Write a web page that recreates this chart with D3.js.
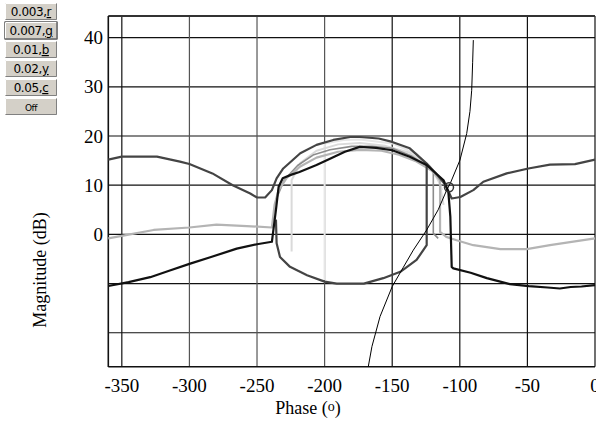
<!DOCTYPE html>
<html>
<head>
<meta charset="utf-8">
<script src="https://cdn.jsdelivr.net/npm/d3@7"></script>
<style>
  body { margin: 0; background: #fff; }
  svg { display: block; }
</style>
</head>
<body>
<div id="chart"></div>
<script>
'use strict';
// Nichols-style magnitude/phase plot with describing-function branches

var xTicks = [-350, -300, -250, -200, -150, -100, -50, 0];
var yTicks = [-20, -10, 0, 10, 20, 30, 40];
var yLabels = [0, 10, 20, 30, 40];
var buttons = ["0.003,r", "0.007,g", "0.01,b", "0.02,y", "0.05,c", "Off"];

// dark gray branch (outer)
var darkMain = [[-360,15.2],[-350,15.8],[-324,15.8],[-307,14.8],[-300,14.3],[-283,12.4],[-268,10],[-255,8.3],
  [-250,7.5],[-244,7.5],[-239,9.0],[-235.5,11.4],[-230.6,13.4],[-218,16.5],[-206,18.2],[-193.6,19.2],[-181,19.8],
  [-174,19.8],[-160,19.5],[-150,18.8],[-137,17.5],[-124.5,14.4],[-117,12.2],[-111,10.2],[-108,8.5],[-106,7.3],
  [-99.6,7.6],[-90,9],[-82.6,10.7],[-65.3,12.4],[-49.3,13.4],[-33.3,14.2],[-14.8,14.3],[0,15.2]];
// dark gray unstable loop
var darkLoop = [[-124.5,14.4],[-124.5,-2.2],[-132,-5.2],[-144,-7.6],[-156.6,-8.9],[-171,-10],[-191,-10],
  [-200,-9.6],[-213,-8.3],[-225.6,-6.6],[-233,-4.6],[-235.5,-1.8],[-236,3]];
// black branch
var blackMain = [[-360,-10.5],[-345,-9.7],[-329,-8.7],[-315,-7.4],[-300,-6.0],[-284,-4.6],[-265,-2.9],[-250,-2.0],
  [-239,-1.5],[-236,5],[-234,9.7],[-231,11.4],[-225,12.1],[-218.6,12.7],[-206,14.1],[-196,15.4],[-185,16.8],
  [-174,17.8],[-162,17.6],[-150,17.1],[-137,15.8],[-124.5,14.1],[-112,11],[-108.5,8.7],[-107,3.6],[-106,-6.6],
  [-104.8,-6.9],[-92,-7.8],[-80,-8.9],[-63,-10.1],[-49,-10.5],[-35,-10.8],[-26,-11],[-18,-10.7],[-10,-10.6],[0,-10.3]];
// light gray branch
var lightMain = [[-360,-0.8],[-346,-0.1],[-326.5,0.9],[-300,1.4],[-280,2.0],[-257.6,1.7],[-239,1.4],[-237,6],
  [-234,9],[-228,11.5],[-218,13.8],[-206,15.6],[-190,16.8],[-174,17.2],[-158,17],[-145,16.2],[-132,14.8],
  [-120,12.8],[-114.6,11],[-114.6,0.5],[-110,-0.5],[-102.4,-1.2],[-90,-2.2],[-70,-3.0],[-50.5,-3.0],[-33.3,-2.2],[0,-0.8]];
// faint branches
var faintA = [[-224.4,-3.5],[-224.4,11],[-218,14.5],[-206,17],[-190,18.3],[-174,18.6],[-155,18],[-137,16.6],
  [-122,13.8],[-115,10.5],[-112,6]];
var faintB = [[-200,-9.3],[-200,18.5],[-186,19.2],[-174,19.3],[-150,18.5],[-132,16.4],[-118,12.6],[-113,9]];
var midGray = [[-236,7],[-230,11],[-220,14],[-208,16.2],[-196,17.2],[-180,17.9],[-165,17.9],[-150,17.5],
  [-136,16],[-122,13.4],[-119.6,12.5],[-119.6,0.2],[-116,-0.8]];
// plant locus (thin)
var plant = [[-167.7,-26.9],[-165,-22.8],[-159,-16.7],[-150,-10.6],[-142,-6.8],[-134.4,-3.2],[-124.5,0.9],
  [-116,5],[-109.7,9],[-107,10.4],[-99.9,15.1],[-94.9,20.5],[-92.5,25],[-91.2,29.3],[-90.5,35],[-90,39.5]];
var marker = [-108, 9.6];

var W = 596, H = 428;
var svg = d3.select("#chart").append("svg").attr("width", W).attr("height", H);

var x = d3.scaleLinear().domain([-360, 0]).range([108.3, 595]);
var y = d3.scaleLinear().domain([-26.9, 44.4]).range([366.7, 16]);

var serif = "'Liberation Serif', 'Times New Roman', serif";

// grid
var grid = svg.append("g");
grid.selectAll("line.h").data(yTicks).enter().append("line")
    .attr("x1", x(-360)).attr("x2", x(0))
    .attr("y1", function(d) { return y(d); }).attr("y2", function(d) { return y(d); })
    .attr("stroke", "#111").attr("stroke-width", 1.2);
grid.selectAll("line.v").data(xTicks).enter().append("line")
    .attr("x1", function(d) { return x(d); }).attr("x2", function(d) { return x(d); })
    .attr("y1", y(44.4)).attr("y2", y(-26.9))
    .attr("stroke", function(d) { return (d >= -300 && d <= -200) ? "#555" : "#111"; })
    .attr("stroke-width", 1.2);

// frame
svg.append("line").attr("x1", x(-360)).attr("x2", x(0)).attr("y1", 16).attr("y2", 16)
    .attr("stroke", "#333").attr("stroke-width", 2);
svg.append("line").attr("x1", x(-360)).attr("x2", x(-360)).attr("y1", 16).attr("y2", 367)
    .attr("stroke", "#111").attr("stroke-width", 1.6);
svg.append("line").attr("x1", x(-360)).attr("x2", x(0)).attr("y1", y(-26.9)).attr("y2", y(-26.9))
    .attr("stroke", "#111").attr("stroke-width", 1.6);

// curves
var line = d3.line().x(function(d) { return x(d[0]); }).y(function(d) { return y(d[1]); });
var curves = [
  {d: faintB, c: "#e6e6e6", w: 2},
  {d: faintA, c: "#dadada", w: 2},
  {d: midGray, c: "#8c8c8c", w: 1.6},
  {d: lightMain, c: "#b4b4b4", w: 2.2},
  {d: darkLoop, c: "#444", w: 2.2},
  {d: darkMain, c: "#444", w: 2.2},
  {d: blackMain, c: "#111", w: 2.2},
  {d: plant, c: "#000", w: 1}
];
svg.append("g").selectAll("path").data(curves).enter().append("path")
    .attr("d", function(s) { return line(s.d); })
    .attr("fill", "none")
    .attr("stroke", function(s) { return s.c; })
    .attr("stroke-width", function(s) { return s.w; })
    .attr("stroke-linejoin", "round");

svg.append("circle").attr("cx", x(marker[0])).attr("cy", y(marker[1])).attr("r", 4.5)
    .attr("fill", "none").attr("stroke", "#333").attr("stroke-width", 1.5);

// tick labels
svg.append("g").selectAll("text").data(xTicks).enter().append("text")
    .attr("x", function(d) { return x(d); }).attr("y", 392)
    .attr("text-anchor", "middle")
    .style("font-family", serif).style("font-size", "19px")
    .text(function(d) { return d; });
svg.append("g").selectAll("text").data(yLabels).enter().append("text")
    .attr("x", 103).attr("y", function(d) { return y(d) + 6.5; })
    .attr("text-anchor", "end")
    .style("font-family", serif).style("font-size", "19px")
    .text(function(d) { return d; });

// axis titles
var xt = svg.append("text").attr("x", 308).attr("y", 414).attr("text-anchor", "middle")
    .style("font-family", serif).style("font-size", "18px");
xt.append("tspan").text("Phase (");
xt.append("tspan").attr("dy", -3).style("font-size", "14px").text("o");
xt.append("tspan").attr("dy", 3).text(")");

svg.append("text").attr("transform", "translate(46,270) rotate(-90)")
    .attr("text-anchor", "middle")
    .style("font-family", serif).style("font-size", "18px")
    .text("Magnitude (dB)");

// button panel
var btn = svg.append("g").selectAll("g").data(buttons).enter().append("g")
    .attr("transform", function(d, i) { return "translate(5," + (3 + i * 19) + ")"; });
btn.append("rect").attr("width", 52).attr("height", 17).attr("fill", "#d4d0c8")
    .attr("stroke", function(d, i) { return i === 1 ? "#000" : "none"; });
btn.append("path").attr("d", "M0.5,16.5 V0.5 H51.5").attr("fill", "none").attr("stroke", "#fff");
btn.append("path").attr("d", "M0.5,16.5 H51.5 V0.5").attr("fill", "none").attr("stroke", "#808080");
btn.append("text").attr("x", 26).attr("y", 13).attr("text-anchor", "middle")
    .style("font-family", "'DejaVu Sans', Arial, sans-serif")
    .style("font-size", function(d) { return d === "Off" ? "9px" : "12px"; })
    .style("letter-spacing", "-0.4px")
    .each(function(d) {
      var t = d3.select(this);
      var k = d.indexOf(",");
      if (k < 0) { t.text(d); return; }
      t.append("tspan").text(d.slice(0, k + 1));
      t.append("tspan").style("text-decoration", "underline").text(d.slice(k + 1));
    });
</script>
</body>
</html>
